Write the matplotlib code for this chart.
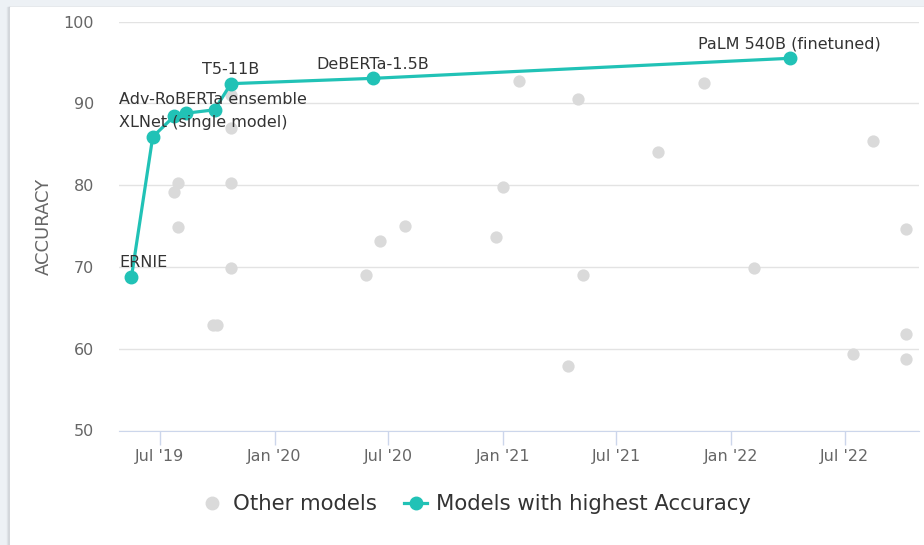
import numpy as np
import pandas as pd
import matplotlib
matplotlib.use('Agg')
import matplotlib.pyplot as plt
import matplotlib.dates as mdates
from matplotlib.patches import Rectangle
from matplotlib.lines import Line2D

# other models (grey dots)
other_dates = ['2019-07-24', '2019-07-30', '2019-07-30', '2019-09-25', '2019-10-01',
               '2019-10-23', '2019-10-23', '2019-10-23', '2019-10-23',
               '2020-05-27', '2020-06-18', '2020-07-28', '2020-12-20', '2021-01-01',
               '2021-01-26', '2021-04-15', '2021-04-30', '2021-05-09', '2021-09-05',
               '2021-11-18', '2022-02-06', '2022-07-15', '2022-08-16',
               '2022-10-07', '2022-10-07', '2022-10-07']
other_acc = [79.1, 80.2, 74.9, 62.9, 62.9,
             91.0, 87.0, 80.2, 69.9,
             69.0, 73.2, 75.0, 73.7, 79.8,
             92.7, 57.85, 90.5, 69.0, 84.0,
             92.5, 69.9, 59.35, 85.4,
             74.6, 61.8, 58.8]

# state of the art models (teal line)
best_dates = ['2019-05-17', '2019-06-20', '2019-07-24', '2019-08-13', '2019-09-27',
              '2019-10-23', '2020-06-06', '2022-04-04']
best_acc = [68.8, 85.9, 88.4, 88.8, 89.2, 92.4, 93.05, 95.5]
best_names = ['ERNIE', 'XLNet (single model)', '', 'Adv-RoBERTa ensemble', '',
              'T5-11B', 'DeBERTa-1.5B', 'PaLM 540B (finetuned)']

x_ticks = ['2019-07-01', '2020-01-01', '2020-07-01', '2021-01-01',
           '2021-07-01', '2022-01-01', '2022-07-01']

teal = '#21c2b6'
grey_dot = '#dadada'
txt = '#666666'

other_x = pd.to_datetime(other_dates)
best_x = pd.to_datetime(best_dates)

fig = plt.figure(figsize=(9.24, 5.45), dpi=100)
fig.patch.set_facecolor('#edf1f5')
# white card with a soft left shadow
for i, c in enumerate(['#e2e6ea', '#d6dadf', '#c9cdd2']):
    fig.patches.append(Rectangle(((7 + i) / 924, 0), 1, 538 / 545,
                                 transform=fig.transFigure, color=c, zorder=-5 + i))
fig.patches.append(Rectangle((10 / 924, 0), 1, 538 / 545, transform=fig.transFigure,
                             color='white', zorder=-1))

ax = fig.add_axes([119 / 924, (545 - 430.5) / 545, 800 / 924, 409 / 545])
ax.set_facecolor('none')
ax.set_zorder(2)

ax.scatter(other_x, other_acc, s=78, color=grey_dot, zorder=2, linewidths=0)
ax.plot(best_x, best_acc, color=teal, lw=2.3, marker='o', ms=9, zorder=3)

ax.set_ylim(50, 100)
ax.set_yticks(np.arange(50, 101, 10))
ax.set_xlim(pd.Timestamp('2019-04-27'), pd.Timestamp('2022-10-28'))
ax.set_xticks(pd.to_datetime(x_ticks))
ax.xaxis.set_major_formatter(mdates.DateFormatter("%b '%y"))
ax.grid(axis='y', color='#e3e3e3', lw=1)
ax.set_axisbelow(True)
for s in ['top', 'right', 'left']:
    ax.spines[s].set_visible(False)
ax.spines['bottom'].set_color('#ccd6eb')
ax.tick_params(axis='y', length=0, labelsize=11.5, labelcolor=txt, pad=18)
ax.tick_params(axis='x', length=10, width=1, color='#ccd6eb', labelsize=11.5,
               labelcolor=txt, pad=3)
ax.set_ylabel('ACCURACY', fontsize=13, color=txt, labelpad=8)

# point labels, centred above the point but kept inside the plot area
fig.canvas.draw()
renderer = fig.canvas.get_renderer()
left_px = ax.transAxes.transform((0, 0))[0]
for d, v, name in zip(best_x, best_acc, best_names):
    if not name:
        continue
    t = ax.annotate(name, xy=(d, v), xytext=(0, 10), textcoords='offset points',
                    ha='center', va='center', fontsize=11.5, color='#333333', zorder=4)
    bb = t.get_window_extent(renderer)
    if bb.x0 < left_px:
        px = ax.transData.transform((mdates.date2num(d), v))[0]
        t.set_ha('left')
        t.set_position(((left_px - px) * 72 / fig.dpi, 10))

handles = [Line2D([], [], ls='none', marker='o', ms=9, color=grey_dot),
           Line2D([], [], color=teal, lw=2.3, marker='o', ms=9)]
fig.legend(handles, ['Other models', 'Models with highest Accuracy'],
           loc='center', bbox_to_anchor=(0.515, 0.075), ncol=2, frameon=False,
           fontsize=15.3, labelcolor='#333333', handlelength=1.1, columnspacing=1.3,
           handletextpad=0.4)

fig.savefig('out.png', dpi=100, facecolor=fig.get_facecolor())
